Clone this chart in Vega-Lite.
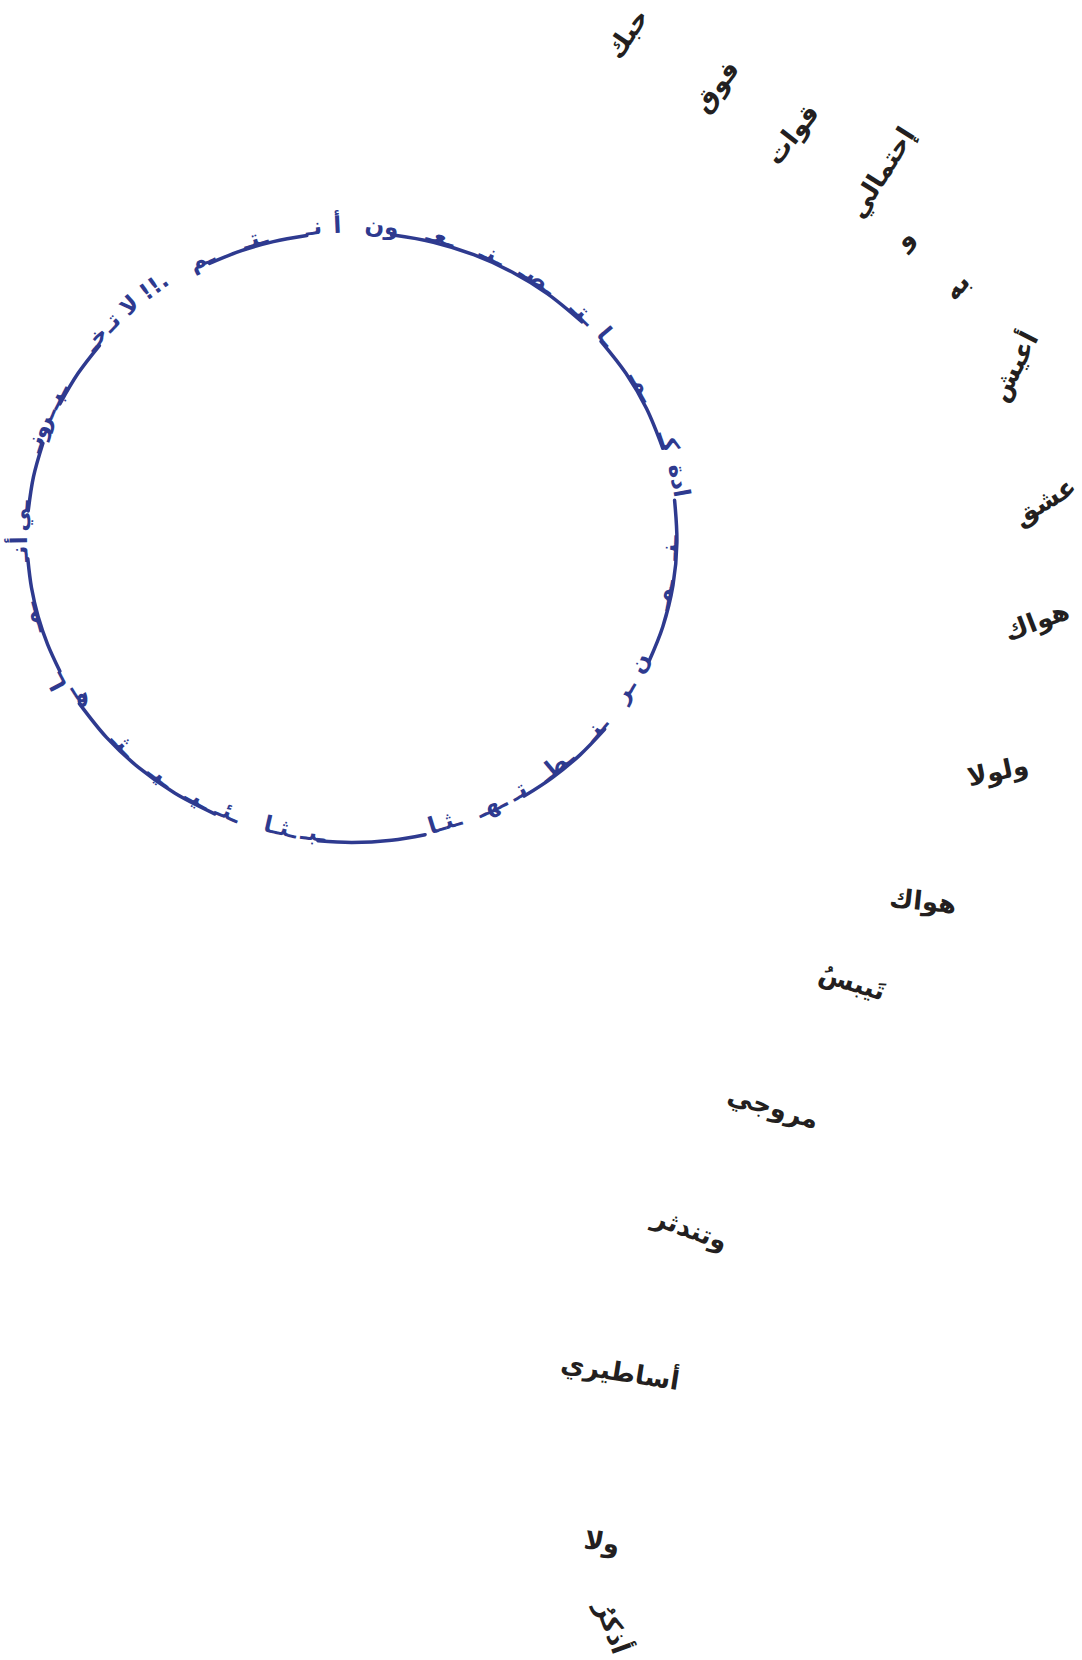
{
  "$schema": "https://vega.github.io/schema/vega-lite/v6.json",
  "width": 1082,
  "height": 1660,
  "padding": 0,
  "autosize": {"type": "fit", "contains": "padding"},
  "background": "white",
  "config": {"view": {"stroke": null}},
  "datasets": {
    "ring": [
      {"seg": "A", "i": 0, "x": 209.5, "y": 263.4}, {"seg": "A", "i": 1, "x": 240.8, "y": 250.9}, {"seg": "A", "i": 2, "x": 273.4, "y": 241.6}, {"seg": "A", "i": 3, "x": 306.8, "y": 235.5},
      {"seg": "B", "i": 0, "x": 59.9, "y": 403.8}, {"seg": "B", "i": 1, "x": 77.9, "y": 373.6}, {"seg": "B", "i": 2, "x": 99.4, "y": 345.6},
      {"seg": "C", "i": 0, "x": 28.2, "y": 510.9}, {"seg": "C", "i": 1, "x": 33.5, "y": 476.7}, {"seg": "C", "i": 2, "x": 42.9, "y": 443.3},
      {"seg": "D", "i": 0, "x": 59.9, "y": 671.2}, {"seg": "D", "i": 1, "x": 47.6, "y": 644.3}, {"seg": "D", "i": 2, "x": 38.1, "y": 616.4}, {"seg": "D", "i": 3, "x": 31.5, "y": 587.8}, {"seg": "D", "i": 4, "x": 27.8, "y": 558.8},
      {"seg": "E", "i": 0, "x": 214.7, "y": 813.9}, {"seg": "E", "i": 1, "x": 175.0, "y": 793.3}, {"seg": "E", "i": 2, "x": 138.8, "y": 767.7}, {"seg": "E", "i": 3, "x": 106.7, "y": 737.6}, {"seg": "E", "i": 4, "x": 79.4, "y": 703.6},
      {"seg": "F", "i": 0, "x": 425.1, "y": 834.7}, {"seg": "F", "i": 1, "x": 391.6, "y": 840.2}, {"seg": "F", "i": 2, "x": 352.0, "y": 842.5}, {"seg": "F", "i": 3, "x": 318.0, "y": 840.8},
      {"seg": "G", "i": 0, "x": 604.6, "y": 729.4}, {"seg": "G", "i": 1, "x": 579.8, "y": 755.1}, {"seg": "G", "i": 2, "x": 552.1, "y": 777.8}, {"seg": "G", "i": 3, "x": 524.2, "y": 796.1},
      {"seg": "H", "i": 0, "x": 674.6, "y": 500.3}, {"seg": "H", "i": 1, "x": 676.9, "y": 542.8}, {"seg": "H", "i": 2, "x": 673.0, "y": 585.2}, {"seg": "H", "i": 3, "x": 662.8, "y": 626.7}, {"seg": "H", "i": 4, "x": 648.9, "y": 661.5},
      {"seg": "I", "i": 0, "x": 601.0, "y": 341.4}, {"seg": "I", "i": 1, "x": 626.1, "y": 373.6}, {"seg": "I", "i": 2, "x": 646.5, "y": 408.6}, {"seg": "I", "i": 3, "x": 662.8, "y": 448.3},
      {"seg": "J", "i": 0, "x": 391.6, "y": 234.8}, {"seg": "J", "i": 1, "x": 433.4, "y": 242.2}, {"seg": "J", "i": 2, "x": 473.7, "y": 254.7}, {"seg": "J", "i": 3, "x": 512.0, "y": 272.0}, {"seg": "J", "i": 4, "x": 547.6, "y": 293.9}, {"seg": "J", "i": 5, "x": 581.8, "y": 321.8}
    ],
    "glyphs": [
      {"t": "أ", "x": 337.8, "y": 232.8, "a": -2.5},
      {"t": "نـ", "x": 314.4, "y": 234.5, "a": -7},
      {"t": "ـتـ", "x": 257.0, "y": 245.8, "a": -17},
      {"t": "ـم", "x": 204.5, "y": 265.7, "a": -27},
      {"t": "!!.", "x": 158.7, "y": 292.3, "a": -36.5},
      {"t": "لا", "x": 134.5, "y": 310.9, "a": -42},
      {"t": "تـ", "x": 116.2, "y": 327.5, "a": -46.5},
      {"t": "خـ", "x": 101.2, "y": 343.5, "a": -50},
      {"t": "ـبـ", "x": 62.4, "y": 399.0, "a": -63},
      {"t": "ـر", "x": 51.7, "y": 420.8, "a": -67.5},
      {"t": "و", "x": 46.6, "y": 433.2, "a": -70},
      {"t": "نـ", "x": 42.0, "y": 445.8, "a": -72.5},
      {"t": "ـي", "x": 27.8, "y": 516.2, "a": -86},
      {"t": "أ", "x": 27.0, "y": 540.2, "a": -90.5},
      {"t": "نـ", "x": 27.5, "y": 553.5, "a": -93},
      {"t": "ـمـ", "x": 38.1, "y": 616.4, "a": -105},
      {"t": "ـا", "x": 63.7, "y": 678.3, "a": -117.5},
      {"t": "هـ", "x": 76.4, "y": 699.1, "a": 58},
      {"t": "ـثـ", "x": 118.2, "y": 749.4, "a": 46},
      {"t": "ـيـ", "x": 156.4, "y": 781.1, "a": 37},
      {"t": "ـيـ", "x": 194.4, "y": 804.3, "a": 29},
      {"t": "ـئـ", "x": 225.0, "y": 818.3, "a": 23},
      {"t": "ـثـا", "x": 278.9, "y": 834.7, "a": 13},
      {"t": "ـبـ", "x": 312.4, "y": 840.2, "a": 7},
      {"t": "ـثـا", "x": 447.0, "y": 829.2, "a": -17},
      {"t": "ـهـ", "x": 494.5, "y": 811.6, "a": -26},
      {"t": "تـ", "x": 521.8, "y": 797.5, "a": -31.5},
      {"t": "ـطـ", "x": 560.9, "y": 771.1, "a": -40},
      {"t": "ـنـ", "x": 601.0, "y": 733.6, "a": -50},
      {"t": "ـر", "x": 630.6, "y": 694.6, "a": -59},
      {"t": "ن", "x": 646.5, "y": 666.4, "a": -65},
      {"t": "ـمـ", "x": 671.0, "y": 595.7, "a": -79},
      {"t": "ـنـ", "x": 676.8, "y": 548.1, "a": -88},
      {"t": "ادة", "x": 671.6, "y": 481.9, "a": 79.5},
      {"t": "كـ", "x": 661.1, "y": 443.3, "a": 72},
      {"t": "ـمـ", "x": 636.2, "y": 389.6, "a": 61},
      {"t": "ـا", "x": 601.0, "y": 341.4, "a": 50},
      {"t": "ـتـ", "x": 577.8, "y": 318.1, "a": 44},
      {"t": "ـصـ", "x": 533.7, "y": 284.7, "a": 34},
      {"t": "ـنـ", "x": 489.3, "y": 261.1, "a": 25},
      {"t": "ـعـ", "x": 438.8, "y": 243.6, "a": 15.5},
      {"t": "ون", "x": 381.1, "y": 233.9, "a": 5.5}
    ],
    "words": [
      {"t": "حبك", "x": 628, "y": 34, "a": -56},
      {"t": "فوق", "x": 717, "y": 87, "a": -53},
      {"t": "قوات", "x": 793, "y": 135, "a": -52},
      {"t": "إحتمالي", "x": 882, "y": 173, "a": -58},
      {"t": "و", "x": 905, "y": 239, "a": -45},
      {"t": "به", "x": 957, "y": 287, "a": -50},
      {"t": "أعيش", "x": 1015, "y": 367, "a": -63},
      {"t": "عشق", "x": 1045, "y": 502, "a": -31},
      {"t": "هواك", "x": 1037, "y": 622, "a": -21},
      {"t": "ولولا", "x": 998, "y": 772, "a": -12},
      {"t": "هواك", "x": 923, "y": 902, "a": 6},
      {"t": "تَيبسُ", "x": 852, "y": 983, "a": 17},
      {"t": "مروجي", "x": 773, "y": 1108, "a": 17},
      {"t": "وتندثر", "x": 690, "y": 1230, "a": 20},
      {"t": "أساطيري", "x": 620, "y": 1373, "a": 9},
      {"t": "ولا", "x": 602, "y": 1543, "a": 10},
      {"t": "أذكرُ", "x": 612, "y": 1628, "a": 70}
    ]
  },
  "layer": [
    {
      "data": {"name": "ring"},
      "mark": {"type": "line", "interpolate": "catmull-rom", "strokeWidth": 3.5, "color": "#2e3a8f", "strokeCap": "round"},
      "encoding": {
        "x": {"field": "x", "type": "quantitative", "scale": {"domain": [0, 1082], "nice": false, "zero": false}, "axis": null},
        "y": {"field": "y", "type": "quantitative", "scale": {"domain": [0, 1660], "reverse": true, "nice": false, "zero": false}, "axis": null},
        "detail": {"field": "seg", "type": "nominal"},
        "order": {"field": "i", "type": "quantitative"}
      }
    },
    {
      "data": {"name": "glyphs"},
      "mark": {"type": "text", "font": "DejaVu Sans", "fontSize": 23, "fontWeight": "bold", "align": "center", "baseline": "alphabetic", "color": "#2e3a8f"},
      "encoding": {
        "x": {"field": "x", "type": "quantitative", "axis": null},
        "y": {"field": "y", "type": "quantitative", "axis": null},
        "text": {"field": "t", "type": "nominal"},
        "angle": {"field": "a", "type": "quantitative", "scale": null}
      }
    },
    {
      "data": {"name": "words"},
      "mark": {"type": "text", "font": "DejaVu Sans", "fontSize": 26, "fontWeight": "bold", "align": "center", "baseline": "middle", "color": "#231f20"},
      "encoding": {
        "x": {"field": "x", "type": "quantitative", "axis": null},
        "y": {"field": "y", "type": "quantitative", "axis": null},
        "text": {"field": "t", "type": "nominal"},
        "angle": {"field": "a", "type": "quantitative", "scale": null}
      }
    }
  ]
}
